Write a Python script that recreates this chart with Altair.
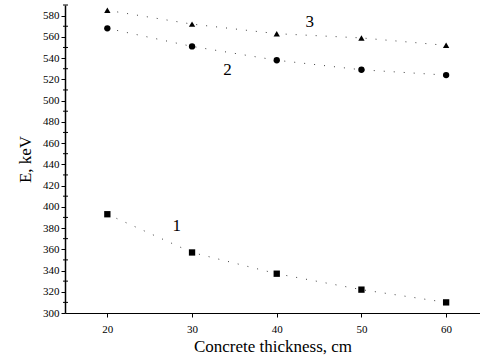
import altair as alt
import pandas as pd

thickness = [20, 30, 40, 50, 60]
series1 = [393, 357, 337, 322, 310]
series2 = [568, 551, 538, 529, 524]
series3 = [585, 572, 563, 559, 552]

label_names = ["1", "2", "3"]
label_x = [28.2, 34.2, 43.9]
label_y = [382, 529, 574]

major_ticks = list(range(300, 581, 20))
minor_ticks = list(range(310, 591, 20))

rows = []
for name, vals in [("1", series1), ("2", series2), ("3", series3)]:
    for t, v in zip(thickness, vals):
        rows.append({"x": t, "E": v, "series": name})
df = pd.DataFrame(rows)
labels = pd.DataFrame({"x": label_x, "E": label_y, "txt": label_names})
minor_df = pd.DataFrame({"E": minor_ticks})

FONT = "Liberation Serif"
xs = alt.Scale(domain=[15, 64], nice=False, zero=False)
ys = alt.Scale(domain=[300, 590], nice=False, zero=False)

xenc = alt.X("x:Q", scale=xs, title="Concrete thickness, cm",
             axis=alt.Axis(values=thickness, tickCount=20, labelPadding=6, titlePadding=4,
                           labelOverlap=False))
yenc = alt.Y("E:Q", scale=ys, title="E, keV",
             axis=alt.Axis(values=major_ticks, tickCount=40, titlePadding=8,
                           labelOverlap=False, labelFlush=False, domainWidth=1.5))

base = alt.Chart(df)
lines = base.mark_line(color="black", strokeWidth=1, strokeDash=[1, 9], opacity=0.75).encode(
    x=xenc, y=yenc, detail="series:N")
points = base.mark_point(filled=True, color="black", opacity=1, size=40).encode(
    x="x:Q", y="E:Q",
    shape=alt.Shape("series:N", scale=alt.Scale(domain=["1", "2", "3"],
                                                 range=["square", "circle", "triangle-up"]),
                    legend=None))
text = alt.Chart(labels).mark_text(font=FONT, fontSize=17, color="black").encode(
    x="x:Q", y="E:Q", text="txt:N")
minor = alt.Chart(minor_df).mark_rule(color="black", strokeWidth=1, clip=False).encode(
    y="E:Q", x=alt.value(-2), x2=alt.value(3))

chart = alt.layer(lines, points, text, minor).properties(
    width=415, height=308,
    padding={"left": 65, "top": 5, "right": 0, "bottom": 50},
    autosize="none", background="white",
).configure_view(stroke=None).configure_axis(
    labelOverlap=False, grid=False, domainColor="black", tickColor="black", tickSize=4,
    labelFont=FONT, labelFontSize=11, labelColor="black", titleFont=FONT, titleFontSize=17,
    titleFontWeight="normal", titleColor="black",
)

chart.save("out.html", embed_options={"renderer": "svg", "actions": False})
